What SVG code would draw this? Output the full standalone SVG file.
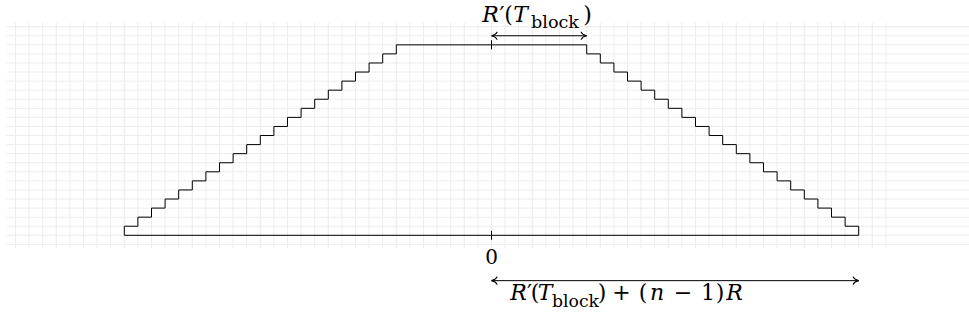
<svg xmlns="http://www.w3.org/2000/svg" width="969" height="324" viewBox="0 0 969 324">
<style>
.grid{fill:none;stroke:#ececec;stroke-width:1}
.ln{fill:none;stroke:#000;stroke-width:1}
.arr{fill:none;stroke:#000;stroke-width:1;marker-start:url(#tip);marker-end:url(#tip)}
text{font-family:"DejaVu Serif","Liberation Serif",serif;font-size:22px;fill:#000;text-anchor:middle}
.i{font-style:italic}
.s{font-size:16px}
</style>
<defs>
<marker id="tip" viewBox="-8 -5 10 10" refX="0" refY="0" markerWidth="10" markerHeight="10" markerUnits="userSpaceOnUse" orient="auto-start-reverse">
<path d="M-5.5,-3.6 C-4.6,-1.6 -1.6,-0.4 0,0 C-1.6,0.4 -4.6,1.6 -5.5,3.6" fill="none" stroke="#000" stroke-width="1.1" stroke-linecap="round"/>
</marker>
</defs>
<rect width="969" height="324" fill="#fff"/>
<g id="grid">
<path class="grid" d="M15.5 22.7v225.6m13.6 -225.6v225.6m13.6 -225.6v225.6m13.6 -225.6v225.6m13.6 -225.6v225.6m13.6 -225.6v225.6m13.6 -225.6v225.6m13.6 -225.6v225.6m13.6 -225.6v225.6m13.6 -225.6v225.6m13.6 -225.6v225.6m13.6 -225.6v225.6m13.6 -225.6v225.6m13.6 -225.6v225.6m13.6 -225.6v225.6m13.6 -225.6v225.6m13.6 -225.6v225.6m13.6 -225.6v225.6m13.6 -225.6v225.6m13.6 -225.6v225.6m13.6 -225.6v225.6m13.6 -225.6v225.6m13.6 -225.6v225.6m13.6 -225.6v225.6m13.6 -225.6v225.6m13.6 -225.6v225.6m13.6 -225.6v225.6m13.6 -225.6v225.6m13.6 -225.6v225.6m13.6 -225.6v225.6m13.6 -225.6v225.6m13.6 -225.6v225.6m13.6 -225.6v225.6m13.6 -225.6v225.6m13.6 -225.6v225.6m13.6 -225.6v225.6m13.6 -225.6v225.6m13.6 -225.6v225.6m13.6 -225.6v225.6m13.6 -225.6v225.6m13.6 -225.6v225.6m13.6 -225.6v225.6m13.6 -225.6v225.6m13.6 -225.6v225.6m13.6 -225.6v225.6m13.6 -225.6v225.6m13.6 -225.6v225.6m13.6 -225.6v225.6m13.6 -225.6v225.6m13.6 -225.6v225.6m13.6 -225.6v225.6m13.6 -225.6v225.6m13.6 -225.6v225.6m13.6 -225.6v225.6m13.6 -225.6v225.6m13.6 -225.6v225.6m13.6 -225.6v225.6m13.6 -225.6v225.6m13.6 -225.6v225.6m13.6 -225.6v225.6m13.6 -225.6v225.6m13.6 -225.6v225.6m13.6 -225.6v225.6m13.6 -225.6v225.6m13.6 -225.6v225.6"/>
<path class="grid" d="M6.7 244.37h962.3m-962.3 -9.07h962.3m-962.3 -9.07h962.3m-962.3 -9.07h962.3m-962.3 -9.07h962.3m-962.3 -9.07h962.3m-962.3 -9.07h962.3m-962.3 -9.07h962.3m-962.3 -9.07h962.3m-962.3 -9.07h962.3m-962.3 -9.07h962.3m-962.3 -9.07h962.3m-962.3 -9.07h962.3m-962.3 -9.07h962.3m-962.3 -9.07h962.3m-962.3 -9.07h962.3m-962.3 -9.07h962.3m-962.3 -9.07h962.3m-962.3 -9.07h962.3m-962.3 -9.07h962.3m-962.3 -9.07h962.3m-962.3 -9.07h962.3m-962.3 -9.07h962.3m-962.3 -9.07h962.3m-962.3 -9.07h962.3"/>
</g>
<g id="staircase">
<path class="ln" d="M124.3 235.3v-9.07
h13.6v-9.07h13.6v-9.07h13.6v-9.07h13.6v-9.07h13.6v-9.07
h13.6v-9.07h13.6v-9.07h13.6v-9.07h13.6v-9.07h13.6v-9.07
h13.6v-9.07h13.6v-9.07h13.6v-9.07h13.6v-9.07h13.6v-9.07
h13.6v-9.07h13.6v-9.07h13.6v-9.07h13.6v-9.07h13.6v-9.07
H586.7
v9.07h13.6v9.07h13.6v9.07h13.6v9.07h13.6v9.07h13.6
v9.07h13.6v9.07h13.6v9.07h13.6v9.07h13.6v9.07h13.6
v9.07h13.6v9.07h13.6v9.07h13.6v9.07h13.6v9.07h13.6
v9.07h13.6v9.07h13.6v9.07h13.6v9.07h13.6v9.07h13.6
v9.07Z"/>
<path class="ln" d="M491.5 40.3v9M491.5 230.8v9"/>
</g>
<g id="connectors">
<path class="arr" d="M491.5 35.76H586.7"/>
<path class="arr" d="M491.5 280.65H858.7"/>
</g>
<g id="label-top">
<text y="22"><tspan class="i" x="490.5">R</tspan><tspan x="502">′</tspan><tspan x="508.5">(</tspan><tspan class="i" x="520.5">T</tspan><tspan class="s" x="555" y="27.7" textLength="48" lengthAdjust="spacingAndGlyphs">block</tspan><tspan x="587.5" y="22">)</tspan></text>
</g>
<g id="label-zero">
<text x="491.5" y="264" style="font-size:20px">0</text>
</g>
<g id="label-bottom">
<text y="300"><tspan class="i" x="518.5">R</tspan><tspan x="529.5">′</tspan><tspan x="535">(</tspan><tspan class="i" x="545">T</tspan><tspan class="s" x="575.5" y="306.7" textLength="47" lengthAdjust="spacingAndGlyphs">block</tspan><tspan x="602" y="300">)</tspan><tspan x="621.5">+</tspan><tspan x="643">(</tspan><tspan class="i" x="657">n</tspan><tspan x="683">−</tspan><tspan x="708">1</tspan><tspan x="720">)</tspan><tspan class="i" x="734.5">R</tspan></text>
</g>
</svg>
